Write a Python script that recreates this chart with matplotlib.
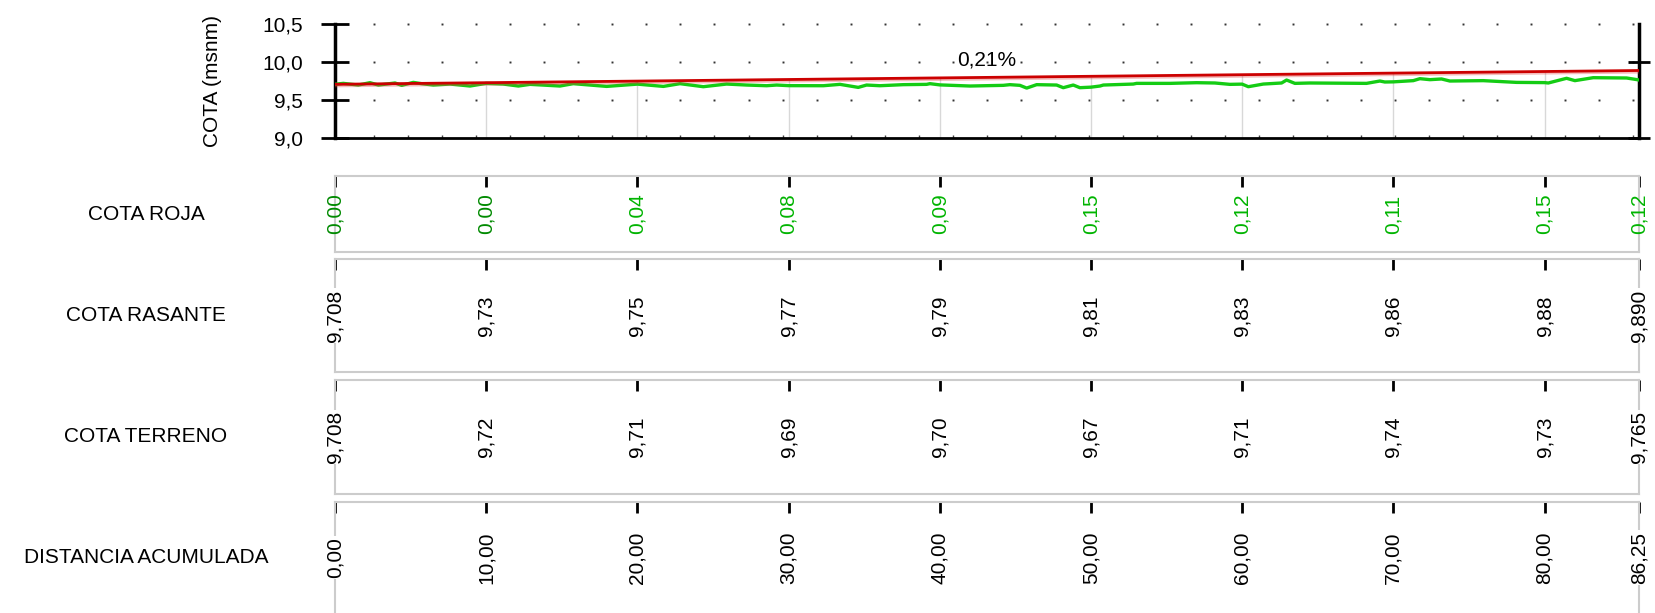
import matplotlib.pyplot as plt
import matplotlib.patheffects as pe
import numpy as np
from matplotlib.ticker import FuncFormatter

plt.rcParams['font.family'] = ['Liberation Sans', 'DejaVu Sans']

# estaciones de la tabla
estaciones = [0, 10, 20, 30, 40, 50, 60, 70, 80, 86.25]
cota_roja = [0.00, 0.00, 0.04, 0.08, 0.09, 0.15, 0.12, 0.11, 0.15, 0.12]
cota_rasante = [9.708, 9.73, 9.75, 9.77, 9.79, 9.81, 9.83, 9.86, 9.88, 9.890]
cota_terreno = [9.708, 9.72, 9.71, 9.69, 9.70, 9.67, 9.71, 9.74, 9.73, 9.765]
pendiente = "0,21%"

# perfil del terreno
perfil_dist = [0, 0.55, 1.54, 2.31, 2.87, 3.97, 4.41, 5.18, 5.73, 6.50, 7.61, 8.93,
               10.0, 11.13, 12.13, 12.90, 14.88, 15.76, 17.97, 20.0, 21.72, 22.82,
               24.36, 25.90, 27.23, 28.55, 29.21, 30.0, 32.30, 33.40, 34.61, 35.16,
               36.04, 37.59, 39.13, 39.35, 40.0, 42.00, 44.20, 44.64, 45.30, 45.75,
               46.41, 47.73, 48.17, 48.83, 49.27, 50.0, 50.60, 50.82, 52.80, 53.02,
               55.22, 56.99, 58.20, 59.19, 60.0, 60.41, 61.40, 62.61, 62.94, 63.49,
               64.48, 68.23, 69.11, 69.44, 70.0, 71.32, 71.76, 72.42, 73.19, 73.74,
               75.95, 78.15, 80.0, 80.25, 81.46, 82.01, 83.22, 85.43, 86.25]
perfil_cota = [9.708, 9.720, 9.698, 9.729, 9.698, 9.725, 9.694, 9.733, 9.716, 9.698,
               9.711, 9.685, 9.720, 9.711, 9.685, 9.707, 9.685, 9.716, 9.680, 9.710,
               9.680, 9.716, 9.676, 9.711, 9.698, 9.689, 9.698, 9.690, 9.689, 9.707,
               9.667, 9.698, 9.689, 9.703, 9.707, 9.716, 9.700, 9.685, 9.694, 9.703,
               9.694, 9.658, 9.703, 9.698, 9.663, 9.698, 9.663, 9.670, 9.685, 9.698,
               9.711, 9.720, 9.720, 9.729, 9.725, 9.707, 9.710, 9.676, 9.711, 9.725,
               9.764, 9.720, 9.725, 9.720, 9.751, 9.738, 9.740, 9.756, 9.782, 9.769,
               9.778, 9.751, 9.756, 9.733, 9.730, 9.725, 9.787, 9.756, 9.795, 9.791,
               9.765]

W, H = 1656, 613
FS = 15


def caja(x0, yt, x1, yb):
    return [x0 / W, 1 - yb / H, (x1 - x0) / W, (yb - yt) / H]


def coma(v, dec):
    return f"{v:.{dec}f}".replace(".", ",")


fig = plt.figure(figsize=(W / 100, H / 100), dpi=100)

# ---- perfil longitudinal ----
ax = fig.add_axes(caja(335, 24.3, 1639, 137.9))
x0, x1 = estaciones[0], estaciones[-1]
ax.set_xlim(x0, x1)
ax.set_ylim(9.0, 10.5)

# puntos de la reticula
mx = np.arange(2.6, x1, 2.25)
gx, gy = np.meshgrid(mx, [9.5, 10.0, 10.5])
ax.plot(gx.ravel(), gy.ravel(), ls='none', marker='s', ms=1.4, color='#333333',
        mew=0, clip_on=False, zorder=1)

ax.vlines(estaciones[1:-1], 9.0, cota_rasante[1:-1], color='#d8d8d8', lw=1, zorder=1)

ax.plot(perfil_dist, perfil_cota, color='#14cc14', lw=2.4, zorder=3)
ax.plot([x0, x1], [cota_rasante[0], cota_rasante[-1]], color='#cc0000', lw=2, zorder=4,
        path_effects=[pe.SimpleLineShadow(offset=(0, -1.2), shadow_color='#e04040', alpha=0.35),
                      pe.Normal()])

xm = (x0 + x1) / 2
ym = cota_rasante[0] + (cota_rasante[-1] - cota_rasante[0]) / 2
ax.annotate(pendiente, (xm, ym), xytext=(0, 6), textcoords='offset points',
            ha='center', va='bottom', fontsize=FS)

ax.spines['top'].set_visible(False)
ax.spines['left'].set_linewidth(2.5)
ax.spines['right'].set_linewidth(2.5)
ax.spines['bottom'].set_linewidth(2)

ax.set_yticks([9.0, 9.5, 10.0, 10.5])
ax.yaxis.set_major_formatter(FuncFormatter(lambda v, p: coma(v, 1)))
ax.tick_params(axis='y', direction='inout', length=20, width=2, pad=13, labelsize=FS)
ax.set_xticks([])
ax.set_xticks(mx, minor=True)
ax.tick_params(axis='x', which='minor', direction='in', length=2, width=1, color='#444444')

der = ax.twinx()
der.set_ylim(9.0, 10.5)
der.set_yticks([9.0, 10.0])
der.set_yticklabels([])
der.tick_params(axis='y', direction='inout', length=16, width=2)
for s in ['top', 'left', 'bottom', 'right']:
    der.spines[s].set_visible(False)

fig.text(212 / W, 1 - 81 / H, "COTA (msnm)", rotation=90, ha='center', va='center',
         fontsize=FS)

# ---- guitarra ----
filas = [
    ("COTA ROJA", [coma(v, 2) for v in cota_roja],
     ['#008a00' if v == 0 else '#00b400' for v in cota_roja], False, (176, 252)),
    ("COTA RASANTE", [coma(v, 3 if i in (0, len(cota_rasante) - 1) else 2)
                      for i, v in enumerate(cota_rasante)],
     ['black'] * len(estaciones), True, (259, 372)),
    ("COTA TERRENO", [coma(v, 3 if i in (0, len(cota_terreno) - 1) else 2)
                      for i, v in enumerate(cota_terreno)],
     ['black'] * len(estaciones), True, (380, 494)),
    ("DISTANCIA ACUMULADA", [coma(v, 2) for v in estaciones],
     ['black'] * len(estaciones), True, (502, 613)),
]

for k, (nombre, textos, colores, fondo, (yt, yb)) in enumerate(filas):
    a = fig.add_axes(caja(335, yt, 1639, yb))
    a.set_xlim(x0, x1)
    a.set_ylim(0, 1)
    a.set_yticks([])
    a.set_xticks(estaciones)
    a.tick_params(axis='x', top=True, bottom=False, labelbottom=False, direction='in',
                  length=8, width=2, color='black')
    for s in a.spines.values():
        s.set_color('#cccccc')
        s.set_linewidth(1.5)
    if k == len(filas) - 1:
        a.spines['bottom'].set_visible(False)
    for xe, t, c in zip(estaciones, textos, colores):
        kw = dict(boxstyle='square,pad=0.05', fc='white', ec='none') if fondo else None
        a.text(xe, 0.5, t, rotation=90, ha='center', va='center', fontsize=FS,
               color=c, bbox=kw, clip_on=False, zorder=4)
    fig.text(146 / W, 1 - (yt + yb) / 2 / H, nombre, ha='center', va='center',
             fontsize=FS)

fig.savefig('out.png', dpi=100)
